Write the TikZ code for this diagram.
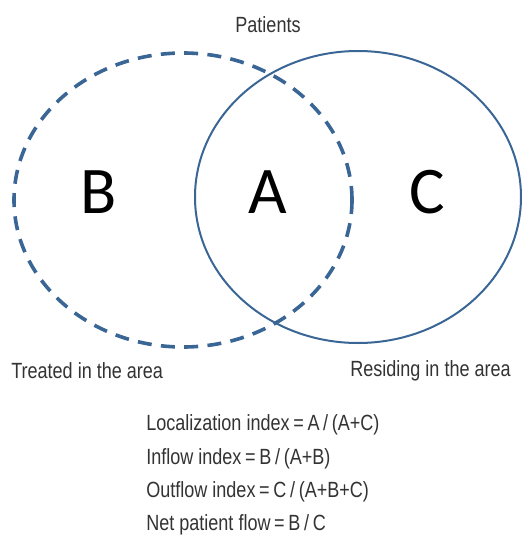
\documentclass[tikz,border=0pt]{standalone}
\usepackage{fontspec}
\setmainfont{Liberation Sans}[FakeStretch=0.82]
\newfontfamily\regionfont{Carlito}
\usepackage{tikz}
\definecolor{vennblue}{RGB}{58,102,150}

\begin{document}
\begin{tikzpicture}[x=0.75pt,y=0.75pt,yscale=-1,xscale=1]
\path[use as bounding box] (0,0) rectangle (527,543);

%Dashed ellipse: treated in the area
\draw [color=vennblue, line width=2.7pt, dash pattern=on 10.5pt off 7pt]  (183,200) ellipse [x radius=169, y radius=147];
%Solid ellipse: residing in the area
\draw [color=vennblue, line width=1.5pt]  (358,197) ellipse [x radius=163, y radius=146];

% Text Node
\draw (268,25) node [inner sep=0.75pt] (patients) {\fontsize{16.5}{19}\selectfont\color{black!80}Patients};
% Text Node
\draw (99,192) node [inner sep=0.75pt] (regB) {\regionfont\fontsize{50}{60}\selectfont B};
% Text Node
\draw (268,192) node [inner sep=0.75pt] (regA) {\regionfont\fontsize{50}{60}\selectfont A};
% Text Node
\draw (427,192) node [inner sep=0.75pt] (regC) {\regionfont\fontsize{50}{60}\selectfont C};
% Text Node
\draw (10,371) node [anchor=west][inner sep=0.75pt] (treated) {\fontsize{16.5}{19}\selectfont\color{black!80}Treated in the area};
% Text Node
\draw (512,371) node [anchor=east][inner sep=0.75pt] (residing) {\fontsize{16.5}{19}\selectfont\color{black!80}Residing in the area};
% Text Node
\draw (145,425) node [anchor=west][inner sep=0.75pt] (local) {\fontsize{16.5}{19}\selectfont\color{black!80}Localization index\,=\,A\,/\,(A+C)};
% Text Node
\draw (145,459) node [anchor=west][inner sep=0.75pt] (inflow) {\fontsize{16.5}{19}\selectfont\color{black!80}Inflow index\,=\,B\,/\,(A+B)};
% Text Node
\draw (145,492) node [anchor=west][inner sep=0.75pt] (outflow) {\fontsize{16.5}{19}\selectfont\color{black!80}Outflow index\,=\,C\,/\,(A+B+C)};
% Text Node
\draw (145,525) node [anchor=west][inner sep=0.75pt] (net) {\fontsize{16.5}{19}\selectfont\color{black!80}Net patient flow\,=\,B\,/\,C};

\end{tikzpicture}
\end{document}
